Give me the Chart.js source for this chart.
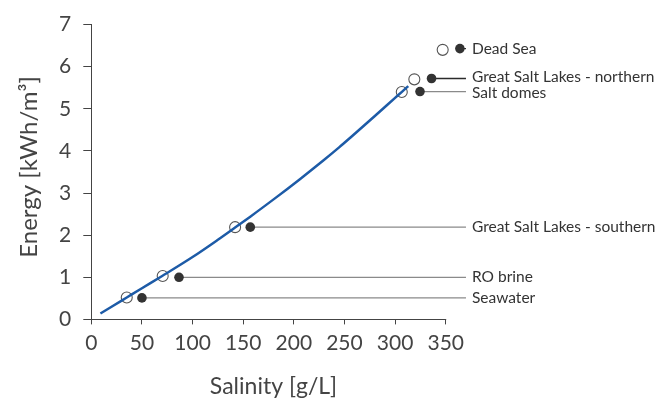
<!DOCTYPE html>
<html>
<head>
<meta charset="utf-8">
<script src="https://cdn.jsdelivr.net/npm/chart.js@4.4.1/dist/chart.umd.min.js"></script>
<style>
  html, body { margin: 0; padding: 0; background: #ffffff; }
  #wrap { width: 670px; height: 401px; }
</style>
</head>
<body>
<div id="wrap"><canvas id="c" width="670" height="401"></canvas></div>
<script>
// ---------- data ----------
const xTicks = [0, 50, 100, 150, 200, 250, 300, 350];
const yTicks = [0, 1, 2, 3, 4, 5, 6, 7];

// minimum-energy curve
const curveX = [9, 20, 35, 50, 70, 100, 125, 142, 157, 180, 206, 230, 245, 256, 280, 300, 307, 313];
const curveY = [0.14, 0.30, 0.52, 0.74, 1.03, 1.48, 1.89, 2.18, 2.44, 2.85, 3.33, 3.79, 4.09, 4.32, 4.83, 5.26, 5.41, 5.54];

// sites
const siteNames = ['Seawater', 'RO brine', 'Great Salt Lakes - southern', 'Salt domes', 'Great Salt Lakes - northern', 'Dead Sea'];
const openX   = [35, 70.5, 142, 306.6, 319, 347];
const openY   = [0.52, 1.03, 2.19, 5.40, 5.70, 6.40];
const filledX = [50, 86.6, 157, 324.6, 336, 364];
const filledY = [0.51, 1.00, 2.19, 5.41, 5.72, 6.43];
const leaderEnd = 370;

// ---------- styling ----------
const FONT = "Lato, 'Open Sans', 'DejaVu Sans', sans-serif";
const AXIS_COLOR = '#444444';
const darkLeader = ['Great Salt Lakes - northern', 'Dead Sea'];
const labelNudge = { 'Great Salt Lakes - northern': -2, 'Salt domes': 1 };

const datasets = [];
siteNames.forEach((name, i) => {
  datasets.push({
    type: 'line',
    label: 'leader-' + name,
    data: [{ x: filledX[i], y: filledY[i] }, { x: leaderEnd, y: filledY[i] }],
    borderColor: darkLeader.includes(name) ? '#2b2b2b' : '#8a8a8a',
    borderWidth: 1.3,
    pointRadius: 0,
    fill: false,
    order: 5
  });
});
datasets.push({
  type: 'line',
  label: 'curve',
  data: curveX.map((x, i) => ({ x, y: curveY[i] })),
  borderColor: '#1d5ba7',
  borderWidth: 2.5,
  pointRadius: 0,
  cubicInterpolationMode: 'monotone',
  fill: false,
  order: 2
});
datasets.push({
  type: 'scatter',
  label: 'open',
  data: openX.map((x, i) => ({ x, y: openY[i] })),
  pointRadius: 5.5,
  pointBackgroundColor: 'rgba(255,255,255,0)',
  pointBorderColor: '#555555',
  pointBorderWidth: 1.1,
  order: 3
});
datasets.push({
  type: 'scatter',
  label: 'filled',
  data: filledX.map((x, i) => ({ x, y: filledY[i] })),
  pointRadius: 4.8,
  pointBackgroundColor: '#333333',
  pointBorderColor: '#333333',
  pointBorderWidth: 0,
  order: 1
});

const decor = {
  id: 'decor',
  afterDraw(chart) {
    const ctx = chart.ctx;
    const xs = chart.scales.x, ys = chart.scales.y;
    ctx.save();
    // x axis line (only to last tick)
    ctx.strokeStyle = AXIS_COLOR;
    ctx.lineWidth = 1;
    ctx.beginPath();
    const y0 = Math.round(ys.getPixelForValue(0)) + 0.5;
    ctx.moveTo(xs.getPixelForValue(0), y0);
    ctx.lineTo(xs.getPixelForValue(xTicks[xTicks.length - 1]) + 0.5, y0);
    ctx.stroke();

    // site labels
    ctx.fillStyle = '#333333';
    ctx.font = "15.5px " + FONT;
    ctx.textAlign = 'left';
    ctx.textBaseline = 'middle';
    const lx = xs.getPixelForValue(leaderEnd) + 6;
    siteNames.forEach((name, i) => {
      ctx.fillText(name, lx, ys.getPixelForValue(filledY[i]) + (labelNudge[name] || 0));
    });

    // axis titles
    ctx.fillStyle = AXIS_COLOR;
    ctx.font = "23px " + FONT;
    ctx.textAlign = 'center';
    ctx.fillText('Salinity [g/L]', (xs.getPixelForValue(0) + xs.getPixelForValue(350)) / 2 + 5, 387);
    ctx.save();
    ctx.translate(29, (ys.getPixelForValue(0) + ys.getPixelForValue(7)) / 2 - 5);
    ctx.rotate(-Math.PI / 2);
    ctx.font = "24px " + FONT;
    ctx.fillText('Energy [kWh/m³]', 0, 0);
    ctx.restore();
    ctx.restore();
  }
};

new Chart(document.getElementById('c'), {
  data: { datasets },
  options: {
    responsive: false,
    animation: false,
    events: [],
    layout: { padding: { left: 0, right: 202, top: 23, bottom: 0 } },
    plugins: { legend: { display: false }, tooltip: { enabled: false } },
    scales: {
      x: {
        type: 'linear',
        min: 0,
        max: 372,
        afterBuildTicks: s => { s.ticks = xTicks.map(v => ({ value: v })); },
        afterFit: s => { s.height = 81.6; },
        grid: { drawOnChartArea: false, drawTicks: true, tickLength: 5, color: AXIS_COLOR, lineWidth: 1 },
        border: { display: false },
        ticks: { color: AXIS_COLOR, font: { family: FONT, size: 21 }, padding: 6, maxRotation: 0, autoSkip: false }
      },
      y: {
        type: 'linear',
        min: 0,
        max: 7,
        afterBuildTicks: s => { s.ticks = yTicks.map(v => ({ value: v })); },
        afterFit: s => { s.width = 91.3; },
        grid: { drawOnChartArea: false, drawTicks: true, tickLength: 8, color: AXIS_COLOR, lineWidth: 1 },
        border: { display: true, color: AXIS_COLOR, width: 1 },
        ticks: { color: AXIS_COLOR, font: { family: FONT, size: 21 }, padding: 12, autoSkip: false }
      }
    }
  },
  plugins: [decor]
});
</script>
</body>
</html>
